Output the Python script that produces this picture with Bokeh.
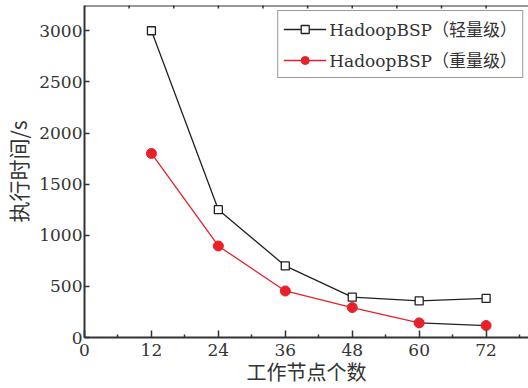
import math
from bokeh.plotting import figure
from bokeh.models import FixedTicker, Range1d, Span
from bokeh.embed import file_html
from bokeh.resources import INLINE

nodes = [12, 24, 36, 48, 60, 72]
light = [3000, 1250, 700, 395, 358, 382]
heavy = [1800, 895, 455, 293, 143, 117]
x_ticks = [0, 12, 24, 36, 48, 60, 72]
x_minor = [6, 18, 30, 42, 54, 66, 78]
top_ticks = [8, 16, 24, 32, 40, 48, 56, 64, 72]
y_ticks = [0, 500, 1000, 1500, 2000, 2500, 3000]
label_light = "HadoopBSP（轻量级）"
label_heavy = "HadoopBSP（重量级）"
x_title = "工作节点个数"
y_title = "执行时间/s"
X_MAX = 79.6
Y_MAX = 3247

FONT = "'DejaVu Serif', 'Noto Sans CJK SC'"
CJK = "'Noto Sans CJK SC'"
AX = "#333333"
RED = "#e8202a"

p = figure(width=528, height=388, output_backend="svg", toolbar_location=None,
           x_range=Range1d(0, X_MAX), y_range=Range1d(0, Y_MAX),
           min_border_left=83, min_border_right=0, min_border_top=5, min_border_bottom=51)
p.grid.visible = False
p.outline_line_color = None
p.background_fill_color = "white"
p.border_fill_color = "white"

for ax in (p.xaxis[0], p.yaxis[0]):
    ax.axis_line_width = 2
    ax.axis_line_color = AX
    ax.major_tick_line_color = AX
    ax.major_tick_line_width = 1.5
    ax.minor_tick_line_color = AX
    ax.minor_tick_line_width = 1.5
    ax.major_label_text_font = FONT
    ax.major_label_text_font_size = "17px"
    ax.major_label_text_color = AX
    ax.axis_label_text_font = CJK
    ax.axis_label_text_font_style = "normal"
    ax.axis_label_text_color = AX

p.xaxis.ticker = FixedTicker(ticks=x_ticks, minor_ticks=x_minor)
p.xaxis.major_tick_in = 7
p.xaxis.major_tick_out = 0
p.xaxis.minor_tick_in = 3
p.xaxis.minor_tick_out = 0
p.xaxis.major_label_standoff = 6
p.xaxis.axis_label = x_title
p.xaxis.axis_label_text_font_size = "20px"
p.xaxis.axis_label_standoff = -2

p.yaxis.ticker = FixedTicker(ticks=y_ticks, minor_ticks=[])
p.yaxis.major_tick_in = 5
p.yaxis.major_tick_out = 0
p.yaxis.minor_tick_in = 0
p.yaxis.minor_tick_out = 0
p.yaxis.major_label_standoff = 2
p.yaxis.axis_label = y_title
p.yaxis.axis_label_text_font_size = "21px"
p.yaxis.axis_label_standoff = 3

# top frame edge with inward ticks
p.add_layout(Span(location=Y_MAX, dimension="width", line_color=AX, line_width=2))
p.scatter(top_ticks, [Y_MAX] * len(top_ticks), marker="dash", angle=math.pi / 2,
          size=6, line_color=AX, line_width=1.5)

# light series
p.line(nodes, light, line_color="#222222", line_width=1.3, legend_label=label_light)
p.scatter(nodes, light, marker="square", size=8, fill_color="white",
          line_color="#222222", line_width=1.3, legend_label=label_light)

# heavy series (last segment appears dark in the reference)
p.line(nodes[:5], heavy[:5], line_color=RED, line_width=1.3, legend_label=label_heavy)
p.line(nodes[4:], heavy[4:], line_color="#222222", line_width=1.3)
p.scatter(nodes, heavy, marker="circle", size=10, fill_color=RED,
          line_color=RED, legend_label=label_heavy)

lg = p.legend[0]
lg.location = "top_right"
lg.margin = 5
lg.padding = 5
lg.spacing = 6
lg.label_height = 20
lg.glyph_height = 20
lg.glyph_width = 43
lg.label_standoff = 3
lg.label_text_font = FONT
lg.label_text_font_size = "17px"
lg.label_text_color = AX
lg.border_line_color = AX
lg.border_line_width = 1.5
lg.background_fill_alpha = 1

open("out.html", "w").write(file_html(p, INLINE))
